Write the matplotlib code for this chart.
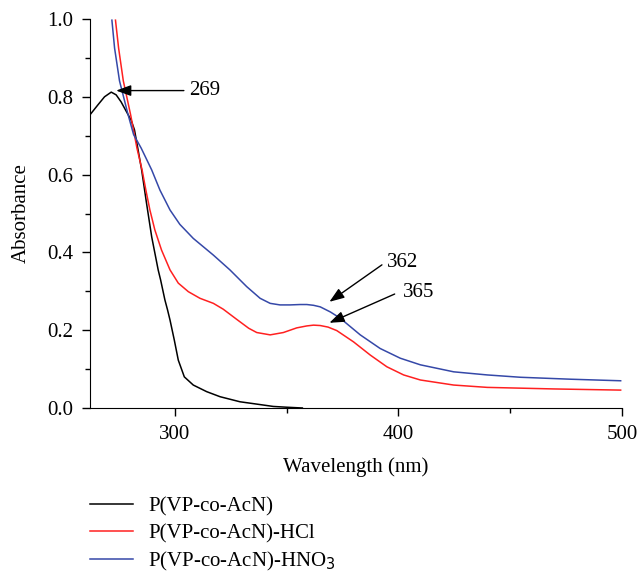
import matplotlib
matplotlib.use("Agg")
import matplotlib.pyplot as plt

plt.rcParams['font.family'] = ['Liberation Serif', 'DejaVu Serif']

# P(VP-co-AcN)
wl_black = [261.9, 265.5, 268.5, 271.5, 273.7, 275.9, 278.0, 280.4, 281.9, 283.0, 285.1, 287.3,
            289.6, 292.5, 293.6, 295.5, 296.7, 297.8, 299.7, 301.5, 304.2, 308.2, 314.2, 320.2,
            329.1, 336.6, 344.0, 350.0, 357.0]
abs_black = [0.753, 0.779, 0.800, 0.812, 0.805, 0.787, 0.765, 0.740, 0.715, 0.680, 0.612, 0.526,
             0.440, 0.355, 0.329, 0.278, 0.252, 0.226, 0.175, 0.123, 0.080, 0.059, 0.042, 0.029,
             0.016, 0.010, 0.004, 0.002, 0.0]

# P(VP-co-AcN)-HCl
wl_red = [273.4, 274.8, 276.9, 280.2, 283.0, 285.3, 287.0, 288.8, 291.0, 294.0, 297.8, 301.5,
          306.0, 311.2, 317.2, 321.6, 327.6, 333.0, 336.6, 342.6, 348.5, 354.5, 359.0, 362.0,
          365.0, 368.5, 372.4, 379.9, 387.4, 394.8, 402.3, 409.8, 424.7, 439.7, 469.5, 499.4]
abs_red = [0.997, 0.925, 0.841, 0.753, 0.668, 0.612, 0.560, 0.509, 0.458, 0.406, 0.355, 0.321,
           0.299, 0.282, 0.269, 0.254, 0.228, 0.205, 0.194, 0.188, 0.194, 0.206, 0.211, 0.213,
           0.212, 0.208, 0.199, 0.170, 0.136, 0.106, 0.085, 0.072, 0.059, 0.053, 0.049, 0.046]

# P(VP-co-AcN)-HNO3
wl_blue = [271.8, 273.0, 275.2, 278.9, 281.5, 284.9, 289.6, 293.3, 297.8, 302.2, 308.2, 317.2,
           324.6, 332.1, 338.1, 342.6, 347.0, 351.5, 356.0, 359.0, 362.0, 365.0, 369.5, 373.9,
           382.9, 391.8, 400.8, 409.8, 424.7, 439.7, 454.6, 477.0, 499.4]
abs_blue = [0.997, 0.925, 0.841, 0.757, 0.703, 0.668, 0.612, 0.560, 0.509, 0.472, 0.436, 0.393,
            0.355, 0.312, 0.282, 0.269, 0.265, 0.265, 0.266, 0.266, 0.264, 0.260, 0.247, 0.231,
            0.188, 0.153, 0.128, 0.111, 0.093, 0.085, 0.079, 0.074, 0.070]

labels = ['P(VP-co-AcN)', 'P(VP-co-AcN)-HCl', 'P(VP-co-AcN)-HNO$_3$']

fig = plt.figure(figsize=(6.38, 5.72), dpi=100)
ax = fig.add_axes([90/638, 1-408/572, (622-90)/638, (408-19)/572])

ax.plot(wl_black, abs_black, color='black', lw=1.1, label=labels[0])
ax.plot(wl_red, abs_red, color='#ff2020', lw=1.1, label=labels[1])
ax.plot(wl_blue, abs_blue, color='#3548a8', lw=1.1, label=labels[2])

ax.set_xlim(262, 500)
ax.set_ylim(0, 1.0)
ax.set_xticks([300, 400, 500])
ax.set_xticks([350, 450], minor=True)
ax.set_yticks([0, 0.2, 0.4, 0.6, 0.8, 1.0])
ax.set_yticks([0.1, 0.3, 0.5, 0.7, 0.9], minor=True)
ax.set_yticklabels(['0.0', '0.2', '0.4', '0.6', '0.8', '1.0'])
ax.tick_params(which='major', direction='out', length=6, width=1, labelsize=15, pad=6)
ax.tick_params(which='minor', direction='out', length=3.5, width=1)
for s in ['top', 'right']:
    ax.spines[s].set_visible(False)
ax.set_xlabel('Wavelength (nm)', fontsize=15, labelpad=10)
ax.set_ylabel('Absorbance', fontsize=15, labelpad=12)

arrowprops = dict(arrowstyle='-|>,head_length=0.6,head_width=0.22', color='black',
                  lw=1, mutation_scale=15, shrinkA=0, shrinkB=0)
ax.annotate('', xy=(273.7, 0.816), xytext=(304.0, 0.816), arrowprops=arrowprops)
ax.annotate('', xy=(369.1, 0.273), xytext=(392.6, 0.368), arrowprops=arrowprops)
ax.annotate('', xy=(369.1, 0.219), xytext=(398.3, 0.293), arrowprops=arrowprops)
ax.text(306.5, 0.816, '269', fontsize=15, va='center', ha='left')
ax.text(395.0, 0.374, '362', fontsize=15, va='center', ha='left')
ax.text(402.2, 0.298, '365', fontsize=15, va='center', ha='left')

fig.legend(loc='upper left', bbox_to_anchor=(90/638, 1-497/572), frameon=False,
           fontsize=15, handlelength=2.07, handletextpad=0.72, labelspacing=0.33,
           borderpad=0, borderaxespad=0)

fig.savefig('out.png', dpi=100)
